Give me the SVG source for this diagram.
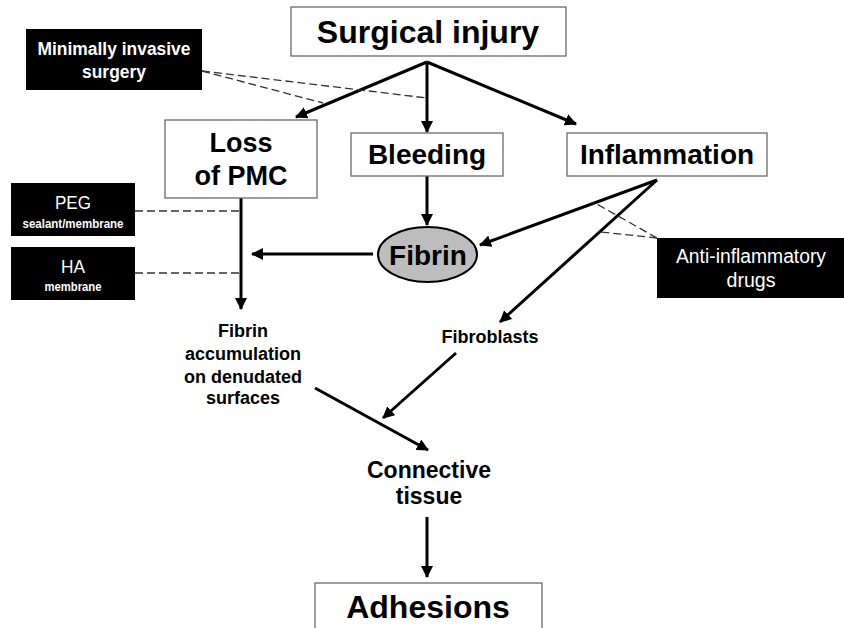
<svg xmlns="http://www.w3.org/2000/svg" width="844" height="628" viewBox="0 0 844 628">
<style>
.box{fill:#fff;stroke:#6a6a6a;stroke-width:1.3}
.dark{fill:#000}
.t{font-family:"Liberation Sans",Arial,sans-serif;font-weight:bold;fill:#000;text-anchor:middle}
.w{font-family:"Liberation Sans",Arial,sans-serif;fill:#fff;text-anchor:middle}
.arr{stroke:#000;stroke-width:3;fill:none;marker-end:url(#ah)}
.dash{stroke:#333;stroke-width:1.3;fill:none;stroke-dasharray:8 4}
</style>
<defs>
<marker id="ah" markerUnits="userSpaceOnUse" markerWidth="12" markerHeight="12" viewBox="0 0 12 12" refX="11" refY="6" orient="auto">
<path d="M0,0 L12,6 L0,12 z" fill="#000"/>
</marker>
</defs>
<rect width="844" height="628" fill="#fff"/>

<g id="connectors">
<line class="arr" x1="427" y1="62" x2="296" y2="117"/>
<line class="arr" x1="427" y1="62" x2="427" y2="132"/>
<line class="arr" x1="427" y1="62" x2="576" y2="124"/>
<line class="arr" x1="427" y1="176" x2="427" y2="225"/>
<line class="arr" x1="657" y1="180" x2="480" y2="245"/>
<line class="arr" x1="657" y1="180" x2="500" y2="322"/>
<line class="arr" x1="373" y1="254" x2="252" y2="254"/>
<line class="arr" x1="241" y1="198" x2="241" y2="309"/>
<line class="arr" x1="456" y1="353" x2="383" y2="418"/>
<line class="arr" x1="315" y1="388" x2="428" y2="450"/>
<line class="arr" x1="427" y1="517" x2="427" y2="577"/>
<line class="dash" x1="202" y1="71" x2="427" y2="98"/>
<line class="dash" x1="202" y1="71" x2="323" y2="103"/>
<line class="dash" x1="135" y1="211" x2="241" y2="211"/>
<line class="dash" x1="135" y1="273" x2="241" y2="273"/>
<line class="dash" x1="657" y1="238" x2="595" y2="203"/>
<line class="dash" x1="657" y1="238" x2="601" y2="232"/>
</g>

<g id="surgical-injury">
<rect class="box" x="291" y="7" width="275" height="49"/>
<text class="t" x="428" y="43" font-size="32">Surgical injury</text>
</g>

<g id="minimally-invasive">
<rect class="dark" x="26" y="29" width="176" height="61"/>
<text class="w" x="114" y="55" font-size="18" font-weight="bold" textLength="153" lengthAdjust="spacingAndGlyphs">Minimally invasive</text>
<text class="w" x="114" y="78" font-size="18" font-weight="bold" textLength="64" lengthAdjust="spacingAndGlyphs">surgery</text>
</g>

<g id="loss-of-pmc">
<rect class="box" x="165" y="120" width="152" height="78"/>
<text class="t" x="241" y="152" font-size="27">Loss</text>
<text class="t" x="241" y="185" font-size="27">of PMC</text>
</g>

<g id="bleeding">
<rect class="box" x="351" y="133" width="152" height="43"/>
<text class="t" x="427" y="164" font-size="28">Bleeding</text>
</g>

<g id="inflammation">
<rect class="box" x="567" y="133" width="200" height="43"/>
<text class="t" x="667" y="164" font-size="28">Inflammation</text>
</g>

<g id="peg">
<rect class="dark" x="11" y="183" width="124" height="53"/>
<text class="w" x="73" y="209" font-size="19" textLength="36" lengthAdjust="spacingAndGlyphs">PEG</text>
<text class="w" x="73" y="228" font-size="13" font-weight="bold" textLength="101" lengthAdjust="spacingAndGlyphs">sealant/membrane</text>
</g>

<g id="ha">
<rect class="dark" x="11" y="247" width="124" height="53"/>
<text class="w" x="73" y="273" font-size="19" textLength="24" lengthAdjust="spacingAndGlyphs">HA</text>
<text class="w" x="73" y="291" font-size="13" font-weight="bold" textLength="57" lengthAdjust="spacingAndGlyphs">membrane</text>
</g>

<g id="fibrin">
<ellipse cx="427.5" cy="254.5" rx="49.5" ry="27.5" fill="#bdbdbd" stroke="#000" stroke-width="2"/>
<text class="t" x="428" y="265" font-size="28">Fibrin</text>
</g>

<g id="anti-inflammatory">
<rect class="dark" x="657" y="238" width="187" height="60"/>
<text class="w" x="751" y="263" font-size="20" textLength="150" lengthAdjust="spacingAndGlyphs">Anti-inflammatory</text>
<text class="w" x="751" y="287" font-size="20" textLength="49" lengthAdjust="spacingAndGlyphs">drugs</text>
</g>

<g id="fibrin-accumulation">
<text class="t" x="243" y="337" font-size="18">Fibrin</text>
<text class="t" x="243" y="360" font-size="18">accumulation</text>
<text class="t" x="243" y="383" font-size="18">on denudated</text>
<text class="t" x="243" y="404" font-size="18">surfaces</text>
</g>

<g id="fibroblasts">
<text class="t" x="490" y="343" font-size="18">Fibroblasts</text>
</g>

<g id="connective-tissue">
<text class="t" x="429" y="478" font-size="23">Connective</text>
<text class="t" x="429" y="504" font-size="23">tissue</text>
</g>

<g id="adhesions">
<rect class="box" x="315" y="583" width="227" height="60"/>
<text class="t" x="428" y="618" font-size="32">Adhesions</text>
</g>
</svg>
